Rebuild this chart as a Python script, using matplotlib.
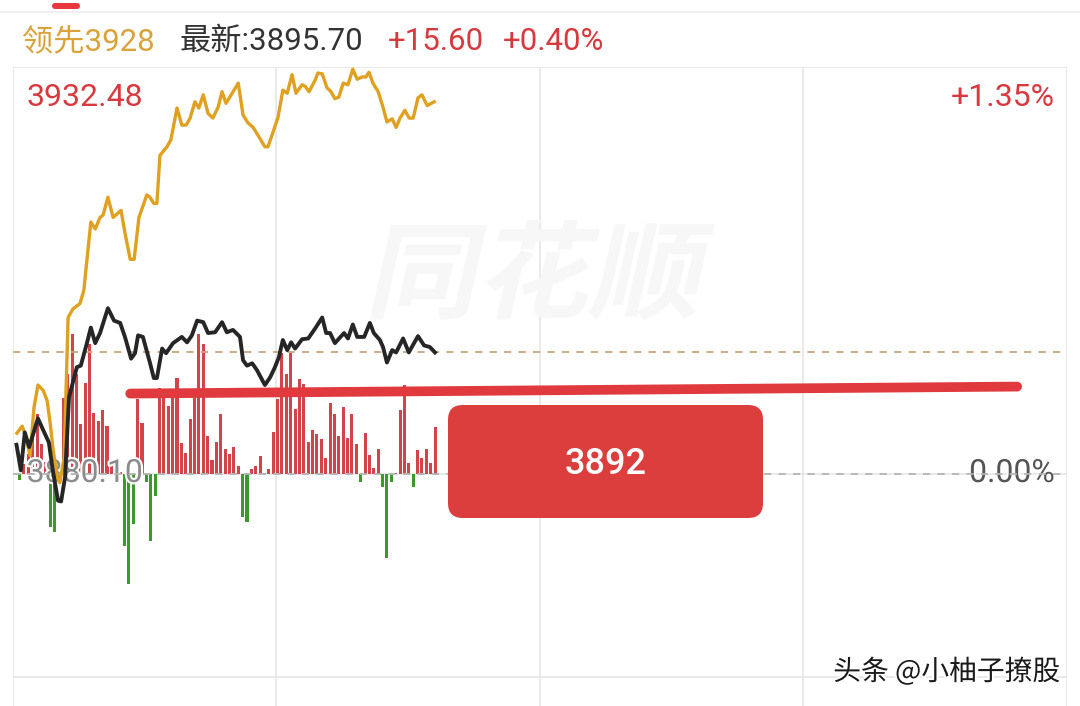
import matplotlib
matplotlib.use("Agg")
import matplotlib.pyplot as plt
import matplotlib.patheffects as pe
from matplotlib.patches import FancyBboxPatch, PathPatch
from matplotlib.textpath import TextPath
from matplotlib.font_manager import FontProperties
from matplotlib.transforms import Affine2D, IdentityTransform

plt.rcParams['font.family'] = ['Roboto', 'Noto Sans CJK SC', 'DejaVu Sans']

# ---- data ----
prev_close = 3880.10
latest = 3895.70
change = 15.60
change_pct = 0.40
lead_latest = 3928
limit_pct = 1.35
n_minutes = 241

# index price (black), vertices: minute, price
price_t = [0.3, 1.3, 2.2, 3.2, 5.2, 6.4, 7.7, 8.6, 9.8, 10.5, 11.4, 12.3, 14.1, 15.0,
           16.4, 17.3, 18.3, 19.4, 21.2, 22.6, 24.0, 25.1, 26.5, 27.4, 28.1, 29.2,
           30.8, 31.7, 32.4, 33.6, 34.5, 36.1, 38.1, 39.3, 40.4, 41.6, 43.0, 44.1,
           45.7, 47.3, 48.4, 49.8, 51.4, 52.1, 53.0, 54.2, 55.3, 57.1, 58.3, 59.4,
           60.3, 61.2, 62.2, 63.1, 64.0, 65.6, 67.0, 68.6, 70.2, 71.1, 72.0, 73.1,
           75.2, 76.1, 77.2, 78.2, 79.8, 81.1, 82.0, 83.4, 84.1, 85.0, 86.2, 87.1,
           88.7, 90.0, 91.2, 92.1, 93.5, 94.8, 96.0]
price_v = [3883.8, 3880.5, 3885.4, 3883.5, 3887.2, 3885.7, 3884.1, 3880.5, 3876.6,
           3876.5, 3879.6, 3889.9, 3893.8, 3894.0, 3896.9, 3898.9, 3896.9, 3898.2,
           3901.4, 3899.8, 3899.5, 3897.7, 3894.9, 3895.6, 3897.9, 3897.7, 3894.4,
           3892.4, 3892.4, 3896.2, 3895.6, 3896.9, 3897.7, 3897.0, 3897.9, 3899.8,
           3899.6, 3898.2, 3898.3, 3899.6, 3898.3, 3898.6, 3897.7, 3894.7, 3894.0,
           3894.3, 3893.4, 3891.5, 3892.5, 3893.8, 3895.1, 3897.3, 3896.0, 3897.0,
           3896.2, 3897.4, 3897.5, 3898.8, 3900.2, 3898.2, 3898.2, 3896.9, 3898.2,
           3897.5, 3899.3, 3897.7, 3897.7, 3899.5, 3898.2, 3897.3, 3896.4, 3894.4,
           3896.0, 3895.7, 3897.5, 3895.7, 3896.9, 3897.8, 3896.6, 3896.4, 3895.7]

# leading index (yellow), vertices: minute, price
lead_t = [0.4, 1.6, 2.5, 3.4, 4.3, 5.2, 6.4, 7.3, 8.0, 8.6, 9.6, 10.2, 11.2, 12.1,
          13.2, 14.8, 15.7, 16.0, 17.3, 18.3, 19.4, 20.1, 21.2, 22.4, 24.2, 25.1,
          26.3, 27.2, 28.3, 30.1, 30.8, 31.7, 32.4, 33.1, 34.7, 35.6, 37.0, 38.1,
          39.1, 40.0, 41.1, 42.0, 43.0, 44.1, 45.2, 46.4, 47.3, 48.2, 49.6, 51.0,
          52.1, 53.2, 54.4, 55.5, 57.1, 57.8, 58.9, 60.1, 61.2, 62.2, 63.3, 64.2,
          65.6, 66.3, 67.2, 68.6, 69.2, 70.2, 71.3, 72.2, 73.1, 74.0, 75.0, 76.1,
          77.2, 78.2, 79.3, 80.2, 80.9, 81.8, 83.0, 84.1, 85.0, 86.2, 87.1, 88.0,
          89.1, 90.1, 91.0, 92.1, 93.0, 94.2, 95.8]
lead_v = [3885.3, 3886.2, 3884.7, 3882.4, 3888.6, 3891.5, 3890.8, 3889.5, 3886.6,
          3883.5, 3879.6, 3878.9, 3882.2, 3900.2, 3901.3, 3902.0, 3903.7, 3905.4,
          3912.5, 3911.6, 3913.1, 3913.4, 3915.7, 3913.1, 3914.0, 3911.1, 3907.7,
          3907.7, 3913.1, 3916.0, 3915.7, 3914.9, 3914.9, 3921.1, 3922.2, 3923.1,
          3927.2, 3925.0, 3925.0, 3925.9, 3928.0, 3927.2, 3928.9, 3926.5, 3925.9,
          3927.3, 3929.3, 3927.8, 3929.1, 3930.4, 3926.3, 3925.3, 3924.7, 3923.7,
          3922.2, 3922.2, 3924.0, 3926.0, 3929.5, 3929.1, 3931.5, 3929.1, 3930.2,
          3930.0, 3929.3, 3930.8, 3931.7, 3931.6, 3929.8, 3929.3, 3928.4, 3928.6,
          3930.4, 3930.2, 3932.2, 3930.9, 3931.2, 3931.2, 3931.8, 3930.4, 3929.3,
          3927.3, 3925.4, 3925.8, 3924.7, 3925.9, 3926.9, 3925.9, 3925.9, 3928.5,
          3928.9, 3927.5, 3928.0]

# buy / sell power bars per minute
power_t = list(range(0, 97))
power_v = [0, -6, 10, 20, 43, 60, 30, 12, -53, -58,
           0, 76, 100, 140, 100, 50, 91, 130, 61, 53,
           64, 48, 8, 4, 2, -72, -110, -50, 75, 51,
           -8, -67, -22, 86, 83, 68, 83, 96, 31, 21,
           55, 76, 140, 130, 38, 14, 32, 60, 25, 20,
           27, 8, -43, -48, 5, 8, 18, 1, 5, 42,
           75, 121, 100, 121, 65, 95, 90, 32, 44, 40,
           35, 16, 71, 60, 38, 67, 36, 60, 30, -8,
           41, 19, 6, 25, -13, -84, -8, 1, 64, 89,
           11, -13, 24, 16, 25, 11, 47]

# hand drawn mark
mark_t = [26.3, 229.1]
mark_v = [3890.4, 3891.3]
mark_label = "3892"

RED = '#d8393f'
BAR_RED = '#d2434a'
GREEN = '#3c9a2d'
GOLD = '#e0a020'
BLACK = '#262626'
GRID = '#e6e6e6'

top = prev_close * (1 + limit_pct / 100)
bottom = prev_close * (1 - limit_pct / 100)

fig = plt.figure(figsize=(10.8, 7.06), dpi=100)
fig.patch.set_facecolor('white')

# axes run below the screenshot edge (picture is cropped at the bottom)
ax = fig.add_axes([13 / 1080, -174 / 706, 1054 / 1080, 813 / 706])
ax.set_xlim(-0.5, n_minutes - 0.5)
ax.set_ylim(-406.5, 406.5)
ax.axis('off')

# grid
x0, x1 = ax.get_xlim()
for k in range(5):
    ax.axvline(x0 + k * (x1 - x0) / 4, color=GRID, lw=1.2, zorder=0)
for k in (1, 2, 4):
    ax.axhline(-406.5 + k * 813 / 4, color=GRID, lw=1.2, zorder=0)

# watermark 同花顺
tp = TextPath((0, 0), '同花顺', size=100,
              prop=FontProperties(family='Noto Sans CJK SC', weight='bold'))
tp = tp.transformed(Affine2D().skew_deg(12, 0))
ext = tp.get_extents()
sx = 345 / ext.width
sy = 100 / ext.height
tp = tp.transformed(Affine2D().translate(-ext.x0, -ext.y0).scale(sx, sy).translate(370, 706 - 320))
ax.add_patch(PathPatch(tp, facecolor='#f7f7f7', edgecolor='none',
                       transform=IdentityTransform(), zorder=0.5))

# power bars
bar_colors = [BAR_RED if v >= 0 else GREEN for v in power_v]
ax.bar(power_t, power_v, width=0.7, color=bar_colors, zorder=2)

halo = [pe.withStroke(linewidth=3, foreground='white')]
ax.text(0.013, 0.5, f'{prev_close:.2f}', transform=ax.transAxes, fontsize=23,
        color='#8c8c8c', ha='left', va='center', zorder=3, path_effects=halo)
ax.text(0.9886, 0.5, '0.00%', transform=ax.transAxes, fontsize=23,
        color='#555555', ha='right', va='center', zorder=3, path_effects=halo)

# price axis on top
axp = ax.twinx()
axp.set_ylim(bottom, top)
axp.axis('off')

axp.axhline(prev_close, color='#b4b4b4', lw=1.3, ls=(0, (4, 4)), zorder=1)
axp.axhline(latest, color='#c9a57c', lw=1.3, ls=(0, (4, 4)), zorder=1)

axp.plot(lead_t, lead_v, color=GOLD, lw=2.4, zorder=3, solid_joinstyle='round')
axp.plot(price_t, price_v, color=BLACK, lw=2.8, zorder=4, solid_joinstyle='round')

axp.plot(mark_t, mark_v, color='#e03a3e', lw=7, solid_capstyle='round', zorder=5)

box = FancyBboxPatch((435 / 1054, 1 - (518 - 67) / 813), 315 / 1054, 113 / 813,
                     boxstyle='round,pad=0,rounding_size=0.014',
                     mutation_aspect=1054 / 813, transform=axp.transAxes,
                     facecolor='#dc3d3d', edgecolor='none', zorder=6)
axp.add_patch(box)
axp.text(592.5 / 1054, 1 - (464 - 67) / 813, mark_label, transform=axp.transAxes,
         fontsize=26, color='white', fontweight='medium', ha='center', va='center',
         zorder=7)

# labels at top of the chart
fig.text(27 / 1080, 1 - 97 / 706, f'{top:.2f}', fontsize=23, color=RED,
         ha='left', va='center')
fig.text(1055 / 1080, 1 - 97 / 706, f'+{limit_pct:.2f}%', fontsize=23, color=RED,
         ha='right', va='center')

# header row
fig.add_artist(plt.Line2D([0, 1], [1 - 12 / 706, 1 - 12 / 706], color='#eeeeee', lw=1.2))
fig.add_artist(FancyBboxPatch((52, 697), 28, 6, boxstyle='round,pad=0,rounding_size=3',
                              transform=IdentityTransform(), facecolor='#e8383d',
                              edgecolor='none'))
hy = 1 - 42 / 706
fig.text(22 / 1080, hy, f'领先{lead_latest}', fontsize=22.5, color='#dba23a', ha='left', va='center')
fig.text(180 / 1080, hy, f'最新:{latest:.2f}', fontsize=22.5, color='#333333', ha='left', va='center')
fig.text(388 / 1080, hy, f'+{change:.2f}', fontsize=22.5, color=RED, ha='left', va='center')
fig.text(503 / 1080, hy, f'+{change_pct:.2f}%', fontsize=22.5, color=RED, ha='left', va='center')

# source watermark
fig.text(1060 / 1080, 1 - 672 / 706, '头条 @小柚子撩股', fontsize=20, color='#1a1a1a',
         ha='right', va='center', family=['Noto Sans CJK SC', 'DejaVu Sans'],
         path_effects=[pe.withStroke(linewidth=3, foreground='white')])

fig.savefig('out.png', dpi=100)
